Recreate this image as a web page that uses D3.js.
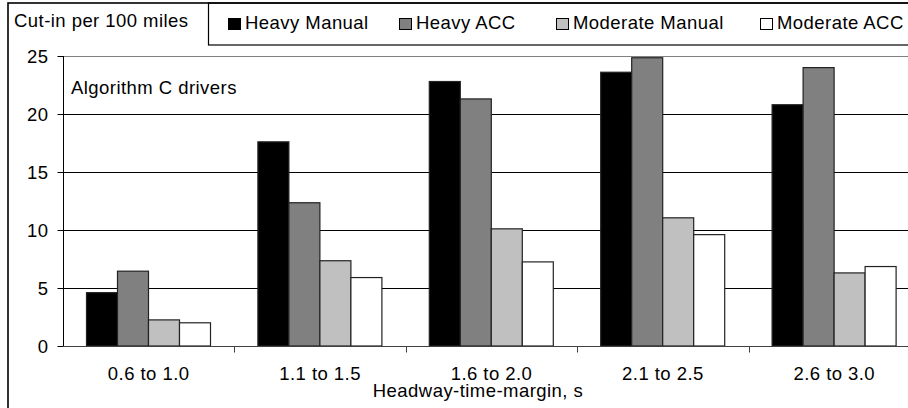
<!DOCTYPE html>
<html>
<head>
<meta charset="utf-8">
<script src="https://cdn.jsdelivr.net/npm/d3@7"></script>
<style>
  body { margin: 0; background: #fff; }
  text { font-family: Arial, "Liberation Sans", sans-serif; fill: #000; letter-spacing: 0.45px; }
</style>
</head>
<body>
<div id="chart"></div>
<script>
// chart data
var categories = ["0.6 to 1.0", "1.1 to 1.5", "1.6 to 2.0", "2.1 to 2.5", "2.6 to 3.0"];
var seriesNames = ["Heavy Manual", "Heavy ACC", "Moderate Manual", "Moderate ACC"];
var heavyManual = [4.6, 17.6, 22.8, 23.6, 20.8];
var heavyACC = [6.45, 12.35, 21.3, 24.85, 24.0];
var moderateManual = [2.25, 7.35, 10.1, 11.05, 6.3];
var moderateACC = [2.0, 5.9, 7.25, 9.6, 6.85];
var yTicks = [0, 5, 10, 15, 20, 25];

var seriesValues = [heavyManual, heavyACC, moderateManual, moderateACC];
var colors = ["#000000", "#808080", "#c0c0c0", "#ffffff"];

var width = 908, height = 408;
var fontSize = 18.5;

var svg = d3.select("#chart")
  .append("svg")
  .attr("width", width)
  .attr("height", height);

// scales - plot area runs a bit past the right edge, like the original
var x0 = d3.scaleBand().domain(categories).range([63, 920]);
var x1 = d3.scaleBand().domain(seriesNames).range([23.5, 147.5]);
var y = d3.scaleLinear().domain([0, 25]).range([346, 56]);

// outer frame
svg.append("rect")
  .attr("x", 8).attr("y", 3)
  .attr("width", 940).attr("height", 440)
  .attr("fill", "none")
  .attr("stroke", "#000")
  .attr("stroke-width", 1.6);

// gridlines
svg.append("g")
  .selectAll("line")
  .data(yTicks.filter(function(d) { return d > 0 && d < 25; }))
  .enter()
  .append("line")
  .attr("x1", 63).attr("x2", 920)
  .attr("y1", function(d) { return Math.round(y(d)) + 0.5; })
  .attr("y2", function(d) { return Math.round(y(d)) + 0.5; })
  .attr("stroke", "#000")
  .attr("stroke-width", 1);

// plot area top border
svg.append("line")
  .attr("x1", 63).attr("x2", 920)
  .attr("y1", y(25) + 0.5).attr("y2", y(25) + 0.5)
  .attr("stroke", "#808080");

// bars
var groups = svg.append("g")
  .selectAll("g")
  .data(categories)
  .enter()
  .append("g")
  .attr("transform", function(d) { return "translate(" + x0(d) + ",0)"; });

groups.selectAll("rect")
  .data(function(d, i) {
    return seriesNames.map(function(s, j) {
      return { series: s, value: seriesValues[j][i], color: colors[j] };
    });
  })
  .enter()
  .append("rect")
  .attr("x", function(d) { return x1(d.series); })
  .attr("y", function(d) { return y(d.value); })
  .attr("width", x1.bandwidth())
  .attr("height", function(d) { return y(0) - y(d.value); })
  .attr("fill", function(d) { return d.color; })
  .attr("stroke", "#222")
  .attr("stroke-width", 1.2);

// y axis
var yAxis = svg.append("g")
  .attr("transform", "translate(63.5,0)")
  .call(d3.axisLeft(y).tickValues(yTicks).tickSize(6).tickPadding(9));
yAxis.select(".domain").attr("stroke", "#000").attr("d", "M0," + y(25) + "V" + y(0));
yAxis.selectAll(".tick line").attr("stroke", "#000");
yAxis.selectAll("text")
  .style("font-size", fontSize + "px")
  .style("font-family", "Arial, 'Liberation Sans', sans-serif")
  .attr("dy", "0.36em");

// x axis baseline + boundary ticks
var xAxis = svg.append("g")
  .attr("transform", "translate(0," + (y(0) + 0.5) + ")");
xAxis.append("line")
  .attr("x1", 63).attr("x2", 920)
  .attr("stroke", "#404040");
xAxis.selectAll(".bound")
  .data(categories.slice(1))
  .enter()
  .append("line")
  .attr("class", "bound")
  .attr("x1", function(d) { return Math.round(x0(d)) + 0.5; })
  .attr("x2", function(d) { return Math.round(x0(d)) + 0.5; })
  .attr("y1", 0).attr("y2", 6)
  .attr("stroke", "#404040");
xAxis.selectAll(".lbl")
  .data(categories)
  .enter()
  .append("text")
  .attr("class", "lbl")
  .attr("x", function(d) { return x0(d) + x0.bandwidth() / 2; })
  .attr("y", 33.5)
  .attr("text-anchor", "middle")
  .style("font-size", fontSize + "px")
  .text(function(d) { return d; });

// x axis title
svg.append("text")
  .attr("x", 478)
  .attr("y", 397)
  .attr("text-anchor", "middle")
  .style("font-size", fontSize + "px")
  .text("Headway-time-margin, s");

// y axis title
svg.append("text")
  .attr("x", 14)
  .attr("y", 27)
  .style("font-size", fontSize + "px")
  .text("Cut-in per 100 miles");

// annotation
svg.append("text")
  .attr("x", 71)
  .attr("y", 94)
  .style("font-size", fontSize + "px")
  .text("Algorithm C drivers");

// legend box
svg.append("rect")
  .attr("x", 208.5).attr("y", 3)
  .attr("width", 760).attr("height", 42)
  .attr("fill", "none")
  .attr("stroke", "#000")
  .attr("stroke-width", 1.2);

var legendX = [228, 399, 556, 760];
var legend = svg.append("g")
  .selectAll("g")
  .data(seriesNames)
  .enter()
  .append("g")
  .attr("transform", function(d, i) { return "translate(" + legendX[i] + ",0)"; });

legend.append("rect")
  .attr("x", 0.5).attr("y", 18.5)
  .attr("width", 12).attr("height", 11)
  .attr("fill", function(d, i) { return colors[i]; })
  .attr("stroke", "#000")
  .attr("stroke-width", 1);

legend.append("text")
  .attr("x", 17)
  .attr("y", 29)
  .style("font-size", fontSize + "px")
  .text(function(d) { return d; });
</script>
</body>
</html>
